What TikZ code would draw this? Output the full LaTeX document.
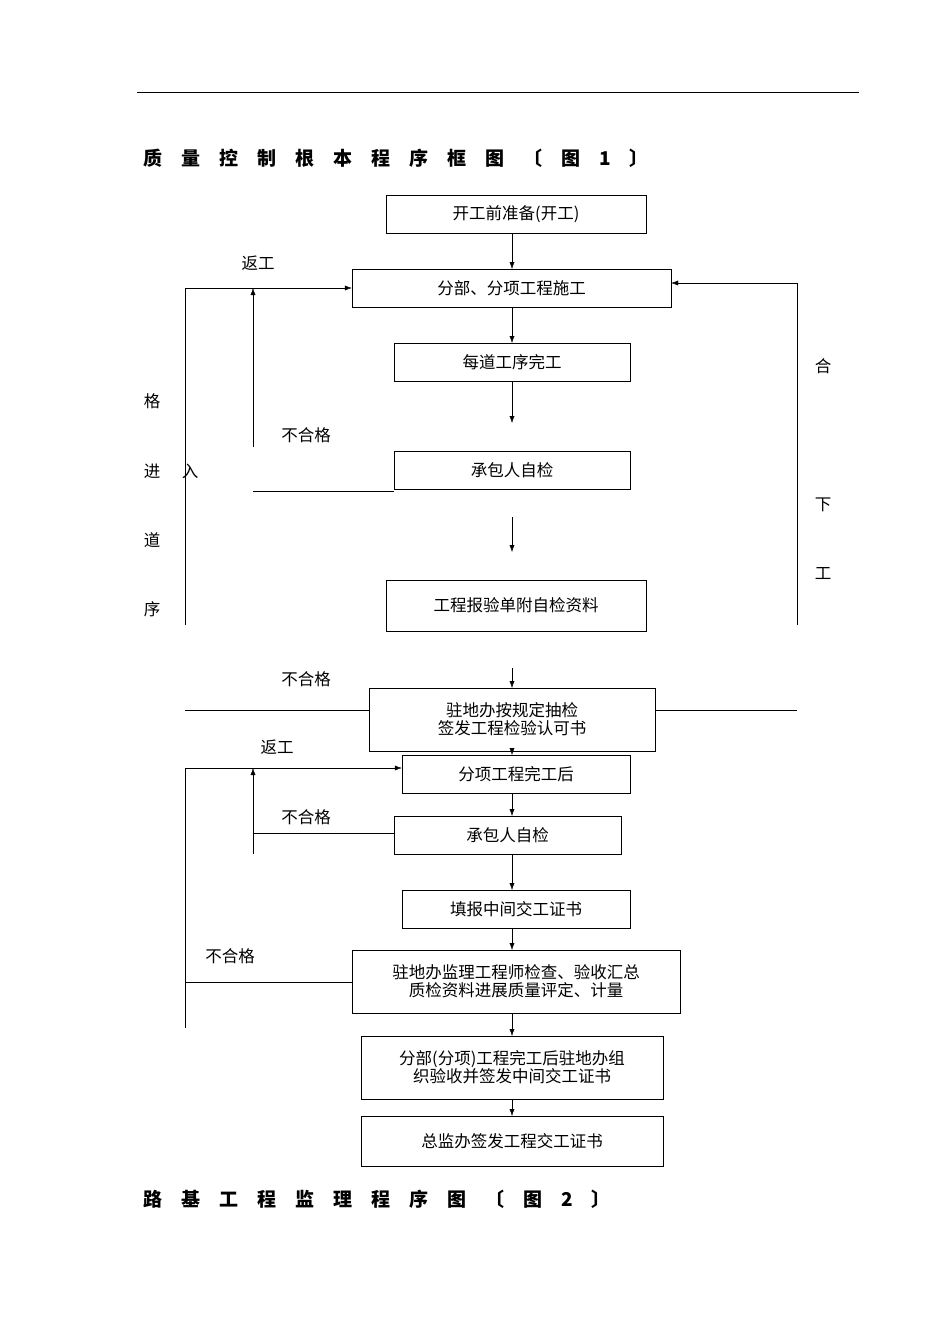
\documentclass[tikz,border=0pt]{standalone}
\usepackage{fontspec}
\setmainfont{Noto Sans CJK SC}
\usetikzlibrary{arrows.meta}
\newcommand{\tsp}{\hspace{19pt}}
\begin{document}
\begin{tikzpicture}[x=1pt,y=-1pt,>={Latex[length=7pt,width=5pt]},
  box/.style={draw,minimum width=#1,minimum height=38pt,inner sep=0pt,font=\fontsize{16.5}{18}\selectfont,align=center},
  lbl/.style={font=\fontsize{16.5}{18}\selectfont,inner sep=0pt},
  ttl/.style={font=\fontsize{19}{21}\selectfont\bfseries,anchor=west,inner sep=0pt}]
\useasboundingbox (0,0) rectangle (950,1344);
\draw (137,92) -- (859,92);
\node[ttl] (t1) at (143,158) {质\tsp 量\tsp 控\tsp 制\tsp 根\tsp 本\tsp 程\tsp 序\tsp 框\tsp 图\tsp 〔\tsp 图\tsp 1\tsp 〕};
\node[ttl] (t2) at (143,1199) {路\tsp 基\tsp 工\tsp 程\tsp 监\tsp 理\tsp 程\tsp 序\tsp 图\tsp 〔\tsp 图\tsp 2\tsp 〕};
% boxes
\node[box=260pt] (kg) at (516,214) {开工前准备(开工)};
\node[box=319pt] (fb) at (511.5,288) {分部、分项工程施工};
\node[box=236pt] (md) at (512,362) {每道工序完工};
\node[box=236pt] (zj) at (512,470) {承包人自检};
\node[box=260pt,minimum height=51pt] (by) at (516,605.5) {工程报验单附自检资料};
\node[box=286pt,minimum height=63pt] (cj) at (512,719.5) {驻地办按规定抽检\\签发工程检验认可书};
\node[box=228pt] (fx) at (516,774) {分项工程完工后};
\node[box=227pt] (zj2) at (507.5,835) {承包人自检};
\node[box=228pt] (tb) at (516,909) {填报中间交工证书};
\node[box=328pt,minimum height=63pt] (jc) at (516,981.5) {驻地办监理工程师检查、验收汇总\\质检资料进展质量评定、计量};
\node[box=302pt,minimum height=63pt] (ys) at (512,1067.5) {分部(分项)工程完工后驻地办组\\织验收并签发中间交工证书};
\node[box=302pt,minimum height=50pt] (zb) at (512,1141) {总监办签发工程交工证书};
% coordinates
\coordinate (a1) at (512,423);
\coordinate (a2) at (512,517);
\coordinate (a3) at (512,552);
\coordinate (a4) at (512,668);
\coordinate (l1) at (253,491.5);
\coordinate (l2) at (253,447);
\coordinate (l3) at (253,288);
\coordinate (o1) at (185,625);
\coordinate (o2) at (185,288);
\coordinate (r1) at (797,625);
\coordinate (r2) at (797,283);
\coordinate (h1) at (185,710);
\coordinate (h2) at (797,710);
\coordinate (p1) at (185,1028);
\coordinate (p2) at (185,768);
\coordinate (q1) at (253,854);
\coordinate (q2) at (253,768);
\coordinate (q3) at (253,833);
\coordinate (s1) at (185,982);
% arrows
\draw[->] (512,233) -- (512,269);
\draw[->] (512,307) -- (512,343);
\draw[->] (512,381) -- (a1);
\draw[->] (a2) -- (a3);
\draw[->] (a4) -- (512,688);
\draw[->] (512,751) -- (512,755);
\draw[->] (512,793) -- (512,816);
\draw[->] (512,854) -- (512,890);
\draw[->] (512,928) -- (512,950);
\draw[->] (512,1013) -- (512,1036);
\draw[->] (512,1099) -- (512,1116);
% loops
\draw (l1) -- (zj.west |- l1);
\draw[->] (l2) -- (l3);
\draw[->] (o1) -- (o2) -- (fb.west);
\draw[->] (r1) -- (r2) -- (fb.east |- r2);
\draw (h1) -- (cj.west |- h1) (cj.east |- h2) -- (h2);
\draw[->] (p1) -- (p2) -- (fx.west |- p2);
\draw[->] (q1) -- (q2);
\draw (q3) -- (zj2.west |- q3);
\draw (s1) -- (jc.west |- s1);
% labels
\node[lbl] (f1) at (258,263) {返工};
\node[lbl] (n1) at (306,435) {不合格};
\node[lbl] (n2) at (306,679) {不合格};
\node[lbl] (f2) at (277,747) {返工};
\node[lbl] (n3) at (306,817) {不合格};
\node[lbl] (n4) at (230,956) {不合格};
\node[lbl] (g1) at (152,401) {格};
\node[lbl] (g2) at (152,471) {进};
\node[lbl] (g3) at (190,471) {入};
\node[lbl] (g4) at (152,540) {道};
\node[lbl] (g5) at (152,609) {序};
\node[lbl] (h3) at (823,366) {合};
\node[lbl] (h4) at (823,505) {下};
\node[lbl] (h5) at (823,574) {工};
\end{tikzpicture}
\end{document}
